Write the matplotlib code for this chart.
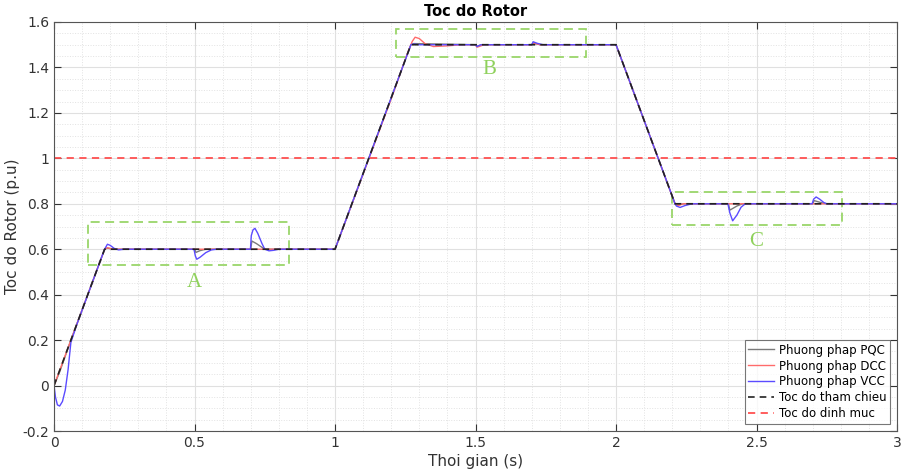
import matplotlib
matplotlib.use("Agg")
import matplotlib.pyplot as plt
from matplotlib.patches import Rectangle
from matplotlib.ticker import MultipleLocator

# reference speed (p.u) vs time (s)
ref_t = [0.0, 0.18, 1.0, 1.27, 2.0, 2.21, 3.0]
ref_v = [0.0, 0.6, 0.6, 1.5, 1.5, 0.8, 0.8]

# PQC method
pqc_t = [0.0, 0.02, 0.06, 0.18, 0.19, 0.21, 0.5, 0.505, 0.52, 0.54, 0.7, 0.704,
         0.72, 0.75, 1.0, 1.27, 1.28, 1.5, 1.505, 1.52, 1.7, 1.705, 1.73,
         2.0, 2.21, 2.22, 2.24, 2.4, 2.405, 2.43, 2.45, 2.7, 2.705, 2.73, 2.75, 3.0]
pqc_v = [0.0, 0.06, 0.2, 0.6, 0.605, 0.6, 0.6, 0.586, 0.594, 0.6, 0.6, 0.636,
         0.625, 0.6, 0.6, 1.5, 1.505, 1.5, 1.493, 1.5, 1.5, 1.507, 1.5,
         1.5, 0.8, 0.795, 0.8, 0.8, 0.772, 0.79, 0.8, 0.8, 0.814, 0.805, 0.8, 0.8]

# DCC method
dcc_t = [0.0, 0.06, 0.18, 0.19, 0.21, 1.0, 1.2, 1.26, 1.275, 1.285, 1.30,
         1.32, 1.35, 1.40, 1.45, 1.5, 1.505, 1.515, 1.53, 1.7, 1.71, 1.73,
         2.0, 2.21, 2.22, 2.24, 3.0]
dcc_v = [0.0, 0.2, 0.6, 0.607, 0.6, 0.6, 1.262, 1.47, 1.515, 1.533, 1.527,
         1.505, 1.492, 1.495, 1.5, 1.5, 1.489, 1.493, 1.5, 1.5, 1.506, 1.5,
         1.5, 0.8, 0.792, 0.8, 0.8]

# VCC method
vcc_t = [0.0, 0.005, 0.012, 0.02, 0.03, 0.04, 0.05, 0.06, 0.08, 0.17, 0.18,
         0.19, 0.2, 0.215, 0.23, 0.25, 0.498, 0.503, 0.508, 0.52, 0.54, 0.56,
         0.58, 0.699, 0.702, 0.708, 0.715, 0.725, 0.74, 0.75, 0.765, 0.78, 0.8,
         1.0, 1.27, 1.28, 1.30, 1.5, 1.505, 1.52, 1.7, 1.705, 1.72, 1.74,
         2.0, 2.21, 2.215, 2.228, 2.245, 2.27, 2.398, 2.405, 2.415, 2.43,
         2.445, 2.46, 2.698, 2.703, 2.712, 2.725, 2.74, 2.75, 3.0]
vcc_v = [0.0, -0.05, -0.085, -0.09, -0.07, -0.02, 0.07, 0.19, 0.265, 0.567, 0.6,
         0.622, 0.617, 0.603, 0.597, 0.6, 0.6, 0.57, 0.556, 0.565, 0.585, 0.597,
         0.6, 0.6, 0.66, 0.685, 0.692, 0.67, 0.625, 0.6, 0.593, 0.595, 0.6,
         0.6, 1.5, 1.503, 1.5, 1.5, 1.492, 1.5, 1.5, 1.513, 1.506, 1.5,
         1.5, 0.8, 0.79, 0.784, 0.792, 0.8, 0.8, 0.76, 0.725, 0.75,
         0.785, 0.8, 0.8, 0.82, 0.83, 0.82, 0.805, 0.8, 0.8]

rated_v = 1.0

# highlight boxes: (t0, t1, v0, v1) and their labels
box_names = ["A", "B", "C"]
box_t0 = [0.121, 1.216, 2.198]
box_t1 = [0.836, 1.892, 2.805]
box_v0 = [0.53, 1.448, 0.707]
box_v1 = [0.72, 1.568, 0.85]
label_t = [0.5, 1.55, 2.5]
label_v = [0.455, 1.39, 0.635]

labels = ["Phuong phap PQC", "Phuong phap DCC", "Phuong phap VCC",
          "Toc do tham chieu", "Toc do dinh muc"]

fig = plt.figure(figsize=(9.05, 4.76), dpi=100)
ax = fig.add_axes([0.0597, 0.0945, 0.9315, 0.8593])

ax.plot(pqc_t, pqc_v, color="#7a7a7a", lw=1.0, label=labels[0])
ax.plot(dcc_t, dcc_v, color="#ff6b6b", lw=1.0, label=labels[1])
ax.plot(vcc_t, vcc_v, color="#5b4bff", lw=1.0, label=labels[2])
ax.plot(ref_t, ref_v, color="#222222", lw=1.2, ls=(0, (4, 3)), label=labels[3])
ax.axhline(rated_v, color="#ff5050", lw=1.3, ls=(0, (4, 3)), label=labels[4])

for name, t0, t1, v0, v1, lt, lv in zip(box_names, box_t0, box_t1, box_v0,
                                        box_v1, label_t, label_v):
    ax.add_patch(Rectangle((t0, v0), t1 - t0, v1 - v0, fill=False,
                           edgecolor="#9ad66a", lw=1.3, ls=(0, (5, 3))))
    ax.text(lt, lv, name, color="#8fd15c", fontsize=15, family="Liberation Serif",
            ha="center", va="center")

ax.set_xlim(0, 3)
ax.set_ylim(-0.2, 1.6)
ax.xaxis.set_minor_locator(MultipleLocator(0.1))
ax.yaxis.set_minor_locator(MultipleLocator(0.05))
ax.set_xticks([0, 0.5, 1, 1.5, 2, 2.5, 3])
ax.set_xticklabels(["0", "0.5", "1", "1.5", "2", "2.5", "3"])
ax.set_yticks([-0.2, 0, 0.2, 0.4, 0.6, 0.8, 1, 1.2, 1.4, 1.6])
ax.set_yticklabels(["-0.2", "0", "0.2", "0.4", "0.6", "0.8", "1", "1.2", "1.4", "1.6"])

ax.grid(which="major", color="#e0e0e0", lw=0.8)
ax.grid(which="minor", color="#e2e2e2", lw=0.7, ls=":")
ax.set_axisbelow(True)
ax.tick_params(which="major", direction="in", length=5, top=True, right=True,
               labelsize=10, colors="#333333", width=0.8)
ax.tick_params(which="minor", length=0)
for sp in ax.spines.values():
    sp.set_color("#555555")
    sp.set_linewidth(0.8)

ax.set_title("Toc do Rotor", fontsize=10.5, fontweight="bold", pad=4)
ax.set_xlabel("Thoi gian (s)", fontsize=11, color="#333333", labelpad=3)
ax.set_ylabel("Toc do Rotor (p.u)", fontsize=11, color="#333333", labelpad=2)

leg = ax.legend(loc="lower right", fontsize=8.5, frameon=True, fancybox=False,
                borderpad=0.3, labelspacing=0.25, handlelength=2.2,
                handletextpad=0.4, borderaxespad=0.6)
leg.get_frame().set_edgecolor("#555555")
leg.get_frame().set_linewidth(0.8)

fig.savefig("out.png", dpi=100)
